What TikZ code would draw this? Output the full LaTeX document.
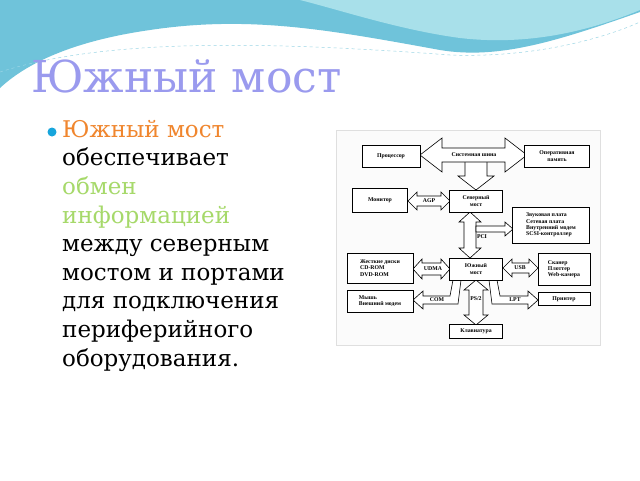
\documentclass[tikz,border=0pt]{standalone}
\usepackage{fontspec}
\setmainfont{DejaVu Serif}
\newfontfamily\diag{Liberation Serif}
\definecolor{ttl}{HTML}{9A9AEE}
\definecolor{org}{HTML}{F0862E}
\definecolor{grn}{HTML}{A6D96A}
\definecolor{wv1}{HTML}{6FC3DA}
\definecolor{wv2}{HTML}{A8E0EA}
\newcommand\hdarr[6]{% x1 x2 y s H L
 \draw[barrow] (#1,#3) -- ({#1+#6},{#3-#5}) -- ({#1+#6},{#3-#4}) -- ({#2-#6},{#3-#4}) -- ({#2-#6},{#3-#5}) -- (#2,#3) -- ({#2-#6},{#3+#5}) -- ({#2-#6},{#3+#4}) -- ({#1+#6},{#3+#4}) -- ({#1+#6},{#3+#5}) -- cycle;}
\newcommand\vdarr[6]{% y1 y2 x s H L
 \draw[barrow] (#3,#1) -- ({#3-#5},{#1+#6}) -- ({#3-#4},{#1+#6}) -- ({#3-#4},{#2-#6}) -- ({#3-#5},{#2-#6}) -- (#3,#2) -- ({#3+#5},{#2-#6}) -- ({#3+#4},{#2-#6}) -- ({#3+#4},{#1+#6}) -- ({#3+#5},{#1+#6}) -- cycle;}
\begin{document}
\begin{tikzpicture}[x=1pt,y=-1pt,
 box/.style={draw,line width=0.6pt,fill=white,inner sep=1pt,font=\diag\bfseries\fontsize{5.8}{6.3}\selectfont,align=center},
 barrow/.style={draw,line width=0.6pt,fill=white},
 lbl/.style={font=\diag\bfseries\fontsize{5.8}{6.3}\selectfont,inner sep=0.5pt}]
\useasboundingbox (0,0) rectangle (640,480);
\fill[white] (0,0) rectangle (640,480);
% waves
\fill[wv1] (0,0) -- (640,0) -- (640,12) .. controls (560,40) and (500,60) .. (440,50) .. controls (330,30) and (250,15) .. (150,30) .. controls (80,40) and (30,60) .. (0,88) -- cycle;
\fill[wv2] (300,0) -- (640,0) -- (640,10) .. controls (580,35) and (520,45) .. (460,38) .. controls (400,30) and (340,10) .. (300,0) -- cycle;
\draw[wv1!70,dashed,line width=0.5pt] (0,72) .. controls (100,40) and (250,40) .. (450,55) .. controls (530,58) and (600,40) .. (640,22);
% title
\node[anchor=base west,text=ttl,font=\fontsize{44}{48}\selectfont,inner sep=0] (title) at (31,92) {Южный мост};
% bullet
\fill[cyan!80!teal] (52,132) circle (4.5);
\node[anchor=north west,inner sep=0,align=left,font=\fontsize{23}{28.6}\selectfont] (body) at (62,120)
 {\textcolor{org}{Южный мост}\\обеспечивает\\\textcolor{grn}{обмен}\\\textcolor{grn}{информацией}\\между северным\\мостом и портами\\для подключения\\периферийного\\оборудования.};
% diagram frame
\draw[gray!25,fill=gray!3] (336,130) rectangle (600,345);
% arrows
\draw[barrow] (465,160) -- (465,176) -- (458,176) -- (476,190) -- (494,176) -- (487,176) -- (487,160) -- cycle;
\hdarr{420}{527}{155}{7}{17}{22}
\hdarr{408}{450}{201}{5}{9}{9}
\vdarr{212}{258}{470}{6}{11}{10}
\draw[barrow] (476,226) -- (505,226) -- (505,222) -- (513,229) -- (505,236) -- (505,232) -- (476,232) -- cycle;
\hdarr{413}{450}{269}{6}{10}{9}
\hdarr{503}{538}{268}{5}{9}{9}
\draw[barrow] (413,300) -- (423,291) -- (423,296) -- (450,296) -- (453,280) -- (461,280) -- (458,304) -- (423,304) -- (423,309) -- cycle;
\draw[barrow] (538,300) -- (528,291) -- (528,296) -- (500,296) -- (497,280) -- (489,280) -- (492,304) -- (528,304) -- (528,309) -- cycle;
\vdarr{280}{325}{476}{7}{12}{10}
% boxes
\node[box,minimum width=58,minimum height=22] (cpu) at (391,156) {Процессор};
\node[box,minimum width=65,minimum height=22] (ram) at (557,156) {Оперативная\\память};
\node[box,minimum width=53,minimum height=22] (nb) at (476,201) {Северный\\мост};
\node[box,minimum width=55,minimum height=24] (mon) at (380,200) {Монитор};
\node[box,minimum width=77,minimum height=36,align=left] (snd) at (551,225) {Звуковая плата\\Сетевая плата\\Внутренний модем\\SCSI-контроллер};
\node[box,minimum width=53,minimum height=22] (sb) at (476,269) {Южный\\мост};
\node[box,minimum width=66,minimum height=30,align=left] (hdd) at (380,268) {Жесткие диски\\CD-ROM\\DVD-ROM};
\node[box,minimum width=52,minimum height=32,align=left] (scn) at (564,269) {Сканер\\Плоттер\\Web-камера};
\node[box,minimum width=66,minimum height=22,align=left] (mouse) at (380,301) {Мышь\\Внешний модем};
\node[box,minimum width=52,minimum height=13] (prn) at (564,299) {Принтер};
\node[box,minimum width=53,minimum height=14] (kbd) at (476,331) {Клавиатура};
% labels
\node[lbl] (lbus) at (474,155) {Системная шина};
\node[lbl] (lagp) at (429,201) {AGP};
\node[lbl] (lpci) at (482,237) {PCI};
\node[lbl] (ludma) at (433,269) {UDMA};
\node[lbl] (lusb) at (520,268) {USB};
\node[lbl] (lcom) at (437,300) {COM};
\node[lbl] (lps) at (476,299) {PS/2};
\node[lbl] (llpt) at (515,300) {LPT};
\end{tikzpicture}
\end{document}
